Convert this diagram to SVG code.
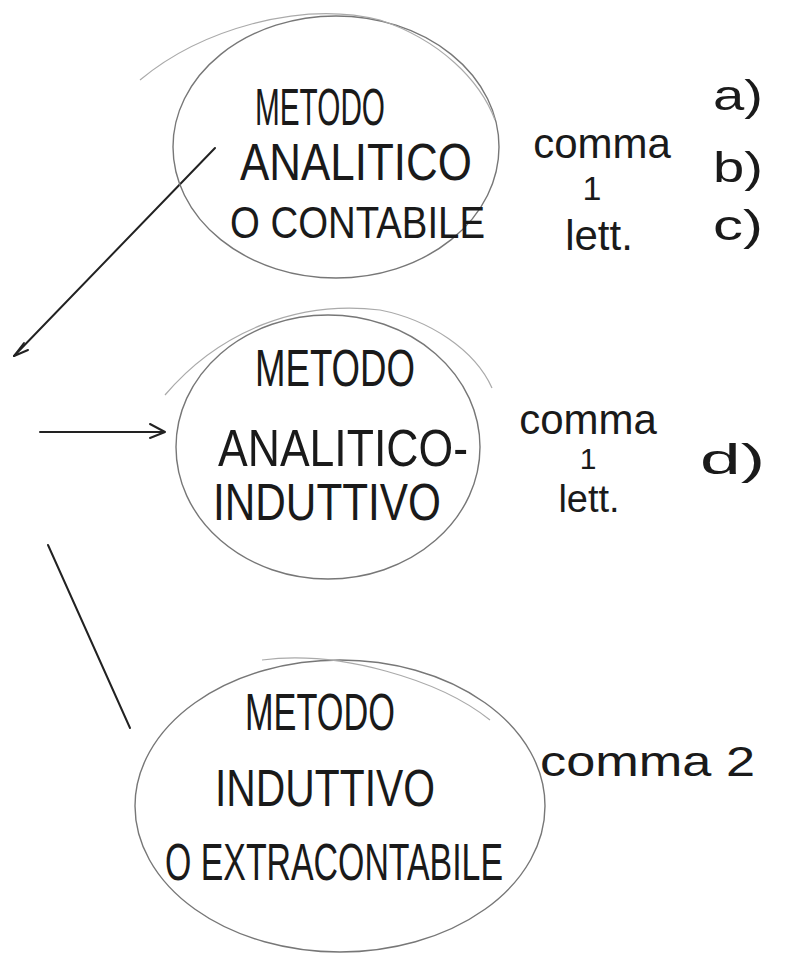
<svg xmlns="http://www.w3.org/2000/svg" width="787" height="955" viewBox="0 0 787 955">
<style>
.e{fill:none;stroke:#777;stroke-width:1.4}
.f{fill:none;stroke:#aaa;stroke-width:1.2}
.c{fill:none;stroke:#222;stroke-width:2;stroke-linecap:round}
.t{font-family:"Liberation Sans",Arial,sans-serif;fill:#1a1a1a;font-size:52px}
.s{font-family:"Liberation Sans",Arial,sans-serif;fill:#1a1a1a;font-size:42px}
</style>
<rect width="787" height="955" fill="#fff"/>
<g id="connectors">
<path class="c" d="M215,148 L14,356"/>
<path class="c" d="M14,356 L24,343 M14,356 L28,350"/>
<path class="c" d="M40,432 L165,432 M165,432 L150,424 M165,432 L150,438"/>
<path class="c" d="M48,545 L130,728"/>
</g>
<g id="node1">
<ellipse class="e" cx="336" cy="147" rx="163" ry="131"/>
<path class="f" d="M140,80 C200,30 300,0 380,20 C440,40 480,80 495,120"/>
<text class="t" x="255" y="125" textLength="130" lengthAdjust="spacingAndGlyphs">METODO</text>
<text class="t" x="240" y="180" textLength="232" lengthAdjust="spacingAndGlyphs">ANALITICO</text>
<text class="t" x="230" y="238" style="font-size:45px" textLength="255" lengthAdjust="spacingAndGlyphs">O CONTABILE</text>
</g>
<g id="label1">
<text class="s" text-anchor="middle"><tspan x="602" y="158">comma</tspan><tspan x="592" y="200" style="font-size:34px">1</tspan><tspan x="599" y="250">lett.</tspan></text>
<text class="s" x="713" y="110" textLength="50" lengthAdjust="spacingAndGlyphs">a)</text>
<text class="s" x="713" y="182" textLength="50" lengthAdjust="spacingAndGlyphs">b)</text>
<text class="s" x="713" y="240" textLength="50" lengthAdjust="spacingAndGlyphs">c)</text>
</g>
<g id="node2">
<ellipse class="e" cx="328" cy="447" rx="152" ry="132"/>
<path class="f" d="M165,395 C220,330 300,300 380,310 C430,320 475,350 492,388"/>
<text class="t" x="255" y="386" textLength="160" lengthAdjust="spacingAndGlyphs">METODO</text>
<text class="t" x="218" y="466" textLength="250" lengthAdjust="spacingAndGlyphs">ANALITICO-</text>
<text class="t" x="213" y="520" textLength="228" lengthAdjust="spacingAndGlyphs">INDUTTIVO</text>
</g>
<g id="label2">
<text class="s" text-anchor="middle"><tspan x="588" y="434">comma</tspan><tspan x="588" y="469" style="font-size:30px">1</tspan><tspan x="589" y="512" style="font-size:38px">lett.</tspan></text>
<text class="s" x="700" y="474" font-size="48" textLength="65" lengthAdjust="spacingAndGlyphs">d)</text>
</g>
<g id="node3">
<ellipse class="e" cx="340" cy="806" rx="205" ry="146"/>
<path class="f" d="M262,660 C340,650 440,680 490,720"/>
<text class="t" x="245" y="730" textLength="150" lengthAdjust="spacingAndGlyphs">METODO</text>
<text class="t" x="215" y="806" textLength="220" lengthAdjust="spacingAndGlyphs">INDUTTIVO</text>
<text class="t" x="165" y="880" textLength="338" lengthAdjust="spacingAndGlyphs">O EXTRACONTABILE</text>
</g>
<g id="label3">
<text class="s" x="540" y="776" font-size="46" textLength="215" lengthAdjust="spacingAndGlyphs">comma 2</text>
</g>
</svg>
